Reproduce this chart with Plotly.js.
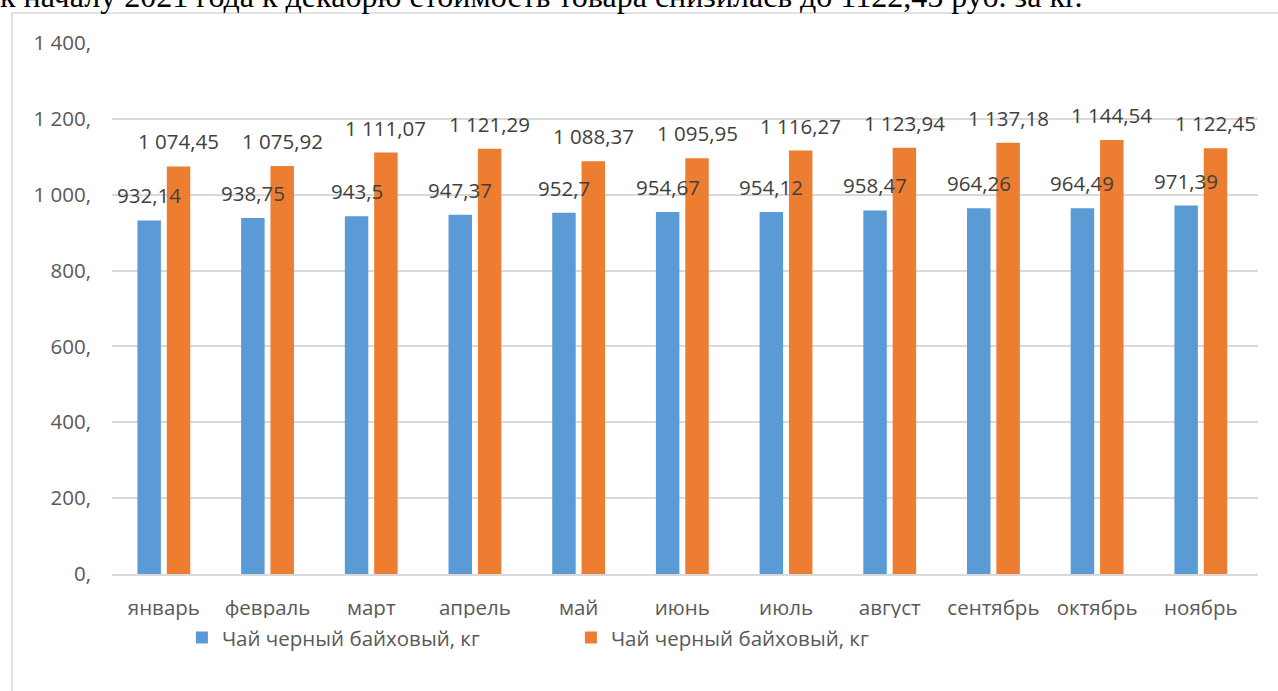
<!DOCTYPE html>
<html>
<head>
<meta charset="utf-8">
<script src="https://cdn.plot.ly/plotly-3.0.1.min.js"></script>
<style>
html,body{margin:0;padding:0;background:#fff;overflow:hidden;}
#chart{width:1278px;height:691px;}
</style>
</head>
<body>
<div id="chart"></div>
<script>
const months = ["январь","февраль","март","апрель","май","июнь","июль","август","сентябрь","октябрь","ноябрь"];
const blueValues = [932.14, 938.75, 943.5, 947.37, 952.7, 954.67, 954.12, 958.47, 964.26, 964.49, 971.39];
const orangeValues = [1074.45, 1075.92, 1111.07, 1121.29, 1088.37, 1095.95, 1116.27, 1123.94, 1137.18, 1144.54, 1122.45];
const yTickVals = [0, 200, 400, 600, 800, 1000, 1200, 1400];
const yTickText = ["0,", "200,", "400,", "600,", "800,", "1 000,", "1 200,", "1 400,"];
const seriesBlueName = "Чай черный байховый, кг";
const seriesOrangeName = "Чай черный байховый, кг";
const headerText = "к началу 2021 года к декабрю стоимость товара снизилась до 1122,45 руб. за кг.";

const BLUE = "#5B9BD5", ORANGE = "#ED7D31";
const FONT = "'Open Sans', 'Noto Sans', sans-serif";
const BARGAP = 0.434, BARGROUPGAP = 0.2;

function fmt(v) {
  const s = String(v).split(".");
  const intPart = s[0].replace(/\B(?=(\d{3})+(?!\d))/g, " ");
  return s.length > 1 ? intPart + "," + s[1] : intPart;
}

const slot = (1 - BARGAP) / 2;
const annotations = [];
months.forEach((m, i) => {
  annotations.push({x: i - slot / 2, y: blueValues[i], xref: "x", yref: "y", text: fmt(blueValues[i]),
    showarrow: false, yanchor: "middle", yshift: 25, font: {family: FONT, size: 20.5, color: "#404040"}});
  annotations.push({x: i + slot / 2, y: orangeValues[i], xref: "x", yref: "y", text: fmt(orangeValues[i]),
    showarrow: false, yanchor: "middle", yshift: 25, font: {family: FONT, size: 20.5, color: "#404040"}});
});
annotations.push({xref: "paper", yref: "paper", x: -0.0995, y: 1.0885, xanchor: "left", yanchor: "middle",
  text: headerText, showarrow: false, font: {family: "'Liberation Serif', 'Times New Roman', serif", size: 32, color: "#000"}});

const traces = [
  {type: "bar", x: months, y: blueValues, name: seriesBlueName, marker: {color: BLUE}, hoverinfo: "none"},
  {type: "bar", x: months, y: orangeValues, name: seriesOrangeName, marker: {color: ORANGE}, hoverinfo: "none"}
];

const layout = {
  width: 1278, height: 691,
  margin: {l: 112, r: 20, t: 43, b: 117},
  paper_bgcolor: "#fff", plot_bgcolor: "#fff",
  barmode: "group", bargap: BARGAP, bargroupgap: BARGROUPGAP,
  font: {family: FONT, color: "#595959", size: 20.5},
  showlegend: true,
  legend: {orientation: "h", x: 0.061, xanchor: "left", y: -0.12, yanchor: "middle",
    entrywidth: 344, entrywidthmode: "pixels", font: {family: FONT, size: 20.5, color: "#595959"},
    traceorder: "normal"},
  xaxis: {type: "category", showgrid: false, showline: true, linecolor: "#d9d9d9", linewidth: 2,
    ticks: "", ticklabelstandoff: 14, tickfont: {family: FONT, size: 20.5, color: "#595959"}, fixedrange: true},
  yaxis: {range: [0, 1400], tickvals: yTickVals, ticktext: yTickText, showgrid: true, gridcolor: "#d9d9d9",
    gridwidth: 2, zeroline: false, showline: false, ticks: "", ticklabelstandoff: 20,
    tickfont: {family: FONT, size: 20.5, color: "#595959"}, fixedrange: true},
  annotations: annotations,
  shapes: [{type: "rect", xref: "paper", yref: "paper", x0: -0.0873, x1: 1.2, y0: -0.4, y1: 1.0565,
    line: {color: "#d9d9d9", width: 1.5}, fillcolor: "rgba(0,0,0,0)", layer: "below"}]
};

Plotly.newPlot("chart", traces, layout, {displayModeBar: false, staticPlot: true});
</script>
</body>
</html>
